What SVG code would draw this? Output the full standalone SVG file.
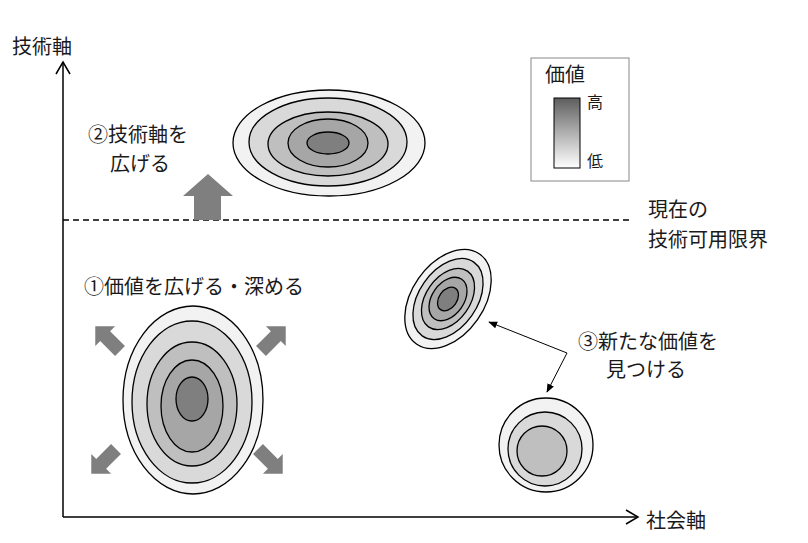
<svg xmlns="http://www.w3.org/2000/svg" width="808" height="543" viewBox="0 0 808 543">
<style>
text{font-family:"Noto Sans CJK JP","Noto Sans",sans-serif;fill:#1a1a1a;font-size:20px;dominant-baseline:central}
.r{stroke:#000;stroke-width:1.3}
.c1{fill:#f2f2f2}.c2{fill:#d9d9d9}.c3{fill:#bfbfbf}.c4{fill:#a6a6a6}.c5{fill:#7f7f7f}
.ax{stroke:#000;stroke-width:1.5;fill:none}
.blk{fill:#7f7f7f}
.ln{stroke:#000;stroke-width:1}
</style>
<defs>
<linearGradient id="g" x1="0" y1="0" x2="0" y2="1">
<stop offset="0" stop-color="#5e5e5e"/>
<stop offset="0.5" stop-color="#b0b0b0"/>
<stop offset="1" stop-color="#ffffff"/>
</linearGradient>
<marker id="ah" viewBox="0 0 10 10" refX="9" refY="5" markerWidth="9" markerHeight="9" markerUnits="userSpaceOnUse" orient="auto">
<path d="M0,1 L10,5 L0,9 Z" fill="#000"/>
</marker>
<path id="sa" d="M0,-18 L14,-4 L7,-4 L7,17 L-7,17 L-7,-4 L-14,-4 Z"/>
</defs>

<g id="axes">
<path class="ax" d="M63,517 V63"/>
<path class="ax" d="M56,74 L63,62 L70,74"/>
<path class="ax" d="M63,517 H637"/>
<path class="ax" d="M626,510 L638,517 L626,524"/>
<text x="12" y="45">技術軸</text>
<text x="646" y="519">社会軸</text>
</g>

<g id="limit">
<path d="M63,220 H632" stroke="#000" stroke-width="1.5" stroke-dasharray="6,4"/>
<text x="648" y="208">現在の</text>
<text x="648" y="238">技術可用限界</text>
</g>

<g id="legend">
<rect x="531" y="58" width="98" height="123" fill="#fff" stroke="#888" stroke-width="1"/>
<text x="545" y="73">価値</text>
<rect x="554" y="98" width="26" height="70" fill="url(#g)" stroke="#000" stroke-width="1"/>
<text x="587" y="101" style="font-size:16px">高</text>
<text x="587" y="160" style="font-size:16px">低</text>
</g>

<g id="tech-expand">
<ellipse class="r c1" cx="329" cy="143" rx="96" ry="53"/>
<ellipse class="r c2" cx="328" cy="142" rx="79" ry="44"/>
<ellipse class="r c3" cx="328" cy="144" rx="60" ry="32"/>
<ellipse class="r c4" cx="328" cy="143" rx="40" ry="24"/>
<ellipse class="r c5" cx="328" cy="143" rx="21" ry="11"/>
<path class="blk" d="M208,174 L233,196 L221,196 L221,220 L194,220 L194,196 L183,196 Z"/>
<text x="88" y="133">②技術軸を</text>
<text x="110" y="162">広げる</text>
</g>

<g id="value-expand">
<ellipse class="r c1" cx="193" cy="400" rx="70" ry="94"/>
<ellipse class="r c2" cx="192" cy="402" rx="60" ry="81"/>
<ellipse class="r c3" cx="192" cy="404" rx="45" ry="62"/>
<ellipse class="r c4" cx="192" cy="406" rx="31" ry="46"/>
<ellipse class="r c5" cx="192" cy="399" rx="16" ry="22"/>
<use href="#sa" class="blk" transform="translate(108,339) rotate(-45)"/>
<use href="#sa" class="blk" transform="translate(273,339) rotate(45)"/>
<use href="#sa" class="blk" transform="translate(104,461) rotate(-135)"/>
<use href="#sa" class="blk" transform="translate(270,461) rotate(135)"/>
<text x="84" y="285">①価値を広げる・深める</text>
</g>

<g id="new-value-tilted" transform="translate(448,299) rotate(-55)">
<ellipse class="r c1" cx="0" cy="0" rx="55" ry="36"/>
<ellipse class="r c2" cx="0" cy="0" rx="45" ry="29"/>
<ellipse class="r c3" cx="0" cy="0" rx="34" ry="22"/>
<ellipse class="r c4" cx="0" cy="0" rx="24" ry="16"/>
<ellipse class="r c5" cx="0" cy="0" rx="13" ry="9"/>
</g>

<g id="new-value-circle">
<circle class="r c1" cx="546" cy="445" r="47"/>
<circle class="r c2" cx="545" cy="449" r="37"/>
<circle class="r c3" cx="542" cy="451" r="25"/>
</g>

<g id="connectors">
<path class="ln" d="M567,353 L489,322" marker-end="url(#ah)"/>
<path class="ln" d="M567,353 L547,392" marker-end="url(#ah)"/>
</g>

<g id="new-value-label">
<text x="578" y="340">③新たな価値を</text>
<text x="606" y="368">見つける</text>
</g>
</svg>
